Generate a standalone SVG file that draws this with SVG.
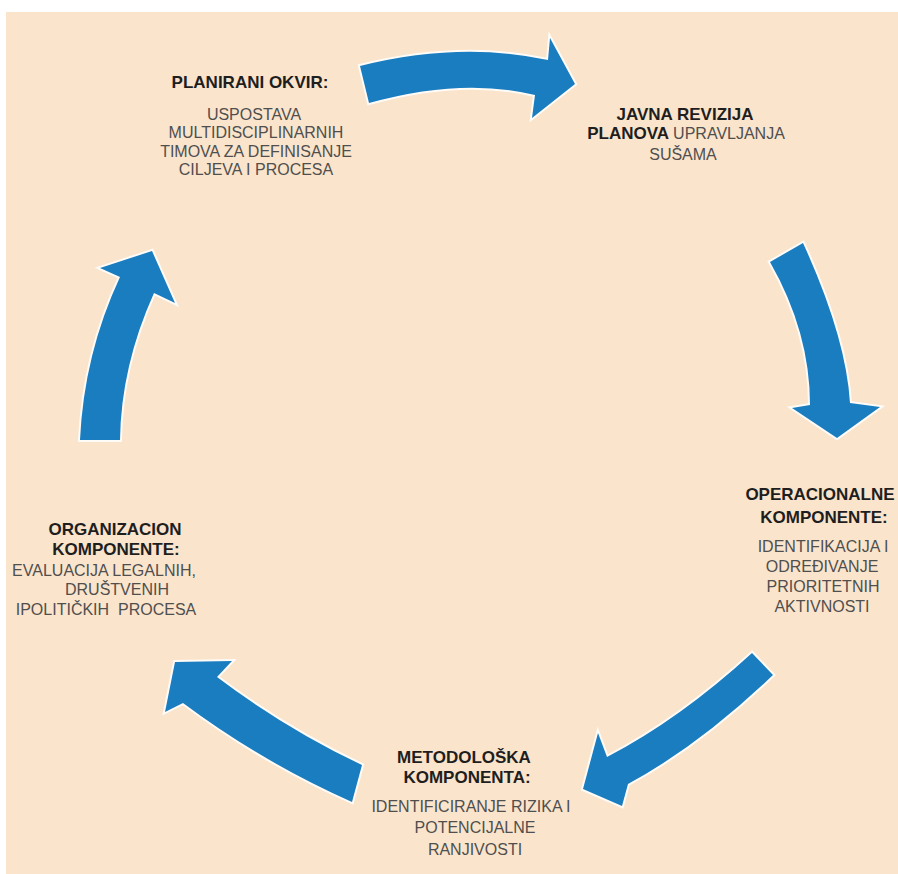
<svg xmlns="http://www.w3.org/2000/svg" width="898" height="874" viewBox="0 0 898 874">
<style>
.bg{fill:#fae4cb}
.arr{fill:#1a7dc0;stroke:#ffffff;stroke-width:4;stroke-linejoin:miter;paint-order:stroke;stroke-opacity:0.85}
text{font-family:"Liberation Sans","Open Sans",Arial,sans-serif;text-anchor:middle}
.t{font-weight:bold;font-size:17px;fill:#1e1e1e}
.r{font-size:16px;fill:#4f4f4f}
.rs{font-weight:normal;fill:#4f4f4f}
</style>
<rect x="0" y="0" width="898" height="874" fill="#ffffff"/>
<rect class="bg" x="6" y="12" width="892" height="862"/>
<g id="connectors">
<path class="arr" d="M360,66 Q460,41 548,60 L550,38 L575,84 L532,118 L535,95 Q462,77 369,103 Z"/>
<path class="arr" d="M803,243 Q846,337 850,403 L880,407 L837,438 L792,408 L810,405 Q810,332 770,262 Z"/>
<path class="arr" d="M752,653 L773,675 Q700,745 628,784 L622,806 L583,789 L598,733 L607,757 Q680,719 752,653 Z"/>
<path class="arr" d="M362,765 Q286,729 217,677 L232,661 L175,662 L165,712 L183,703 Q262,762 352,802 Z"/>
<path class="arr" d="M80,440 Q84,354 120,277 L100,268 L152,251 L175,303 L154,293 Q121,366 120,440 Z"/>
</g>
<g id="planirani-okvir">
<text class="t" x="250" y="88">PLANIRANI OKVIR:</text>
<text class="r" x="254" y="120">USPOSTAVA</text>
<text class="r" x="256" y="138">MULTIDISCIPLINARNIH</text>
<text class="r" x="256" y="157">TIMOVA ZA DEFINISANJE</text>
<text class="r" x="256" y="175">CILJEVA I PROCESA</text>
</g>
<g id="javna-revizija">
<text class="t" x="685" y="120">JAVNA REVIZIJA</text>
<text class="t" x="686" y="139">PLANOVA <tspan class="rs" font-size="16">UPRAVLJANJA</tspan></text>
<text class="r" x="683" y="160">SUŠAMA</text>
</g>
<g id="operacionalne">
<text class="t" x="820" y="500">OPERACIONALNE</text>
<text class="t" x="824" y="523">KOMPONENTE:</text>
<text class="r" x="823" y="552">IDENTIFIKACIJA I</text>
<text class="r" x="822" y="572">ODREĐIVANJE</text>
<text class="r" x="823" y="592">PRIORITETNIH</text>
<text class="r" x="822" y="612">AKTIVNOSTI</text>
</g>
<g id="metodoloska">
<text class="t" x="464" y="763">METODOLOŠKA</text>
<text class="t" x="467" y="783">KOMPONENTA:</text>
<text class="r" x="471" y="812">IDENTIFICIRANJE RIZIKA I</text>
<text class="r" x="475" y="833">POTENCIJALNE</text>
<text class="r" x="475" y="855">RANJIVOSTI</text>
</g>
<g id="organizacion">
<text class="t" x="115" y="535">ORGANIZACION</text>
<text class="t" x="116" y="555">KOMPONENTE:</text>
<text class="r" x="104" y="576">EVALUACIJA LEGALNIH,</text>
<text class="r" x="117" y="595">DRUŠTVENIH</text>
<text class="r" x="106" y="615" xml:space="preserve">IPOLITIČKIH  PROCESA</text>
</g>
</svg>
